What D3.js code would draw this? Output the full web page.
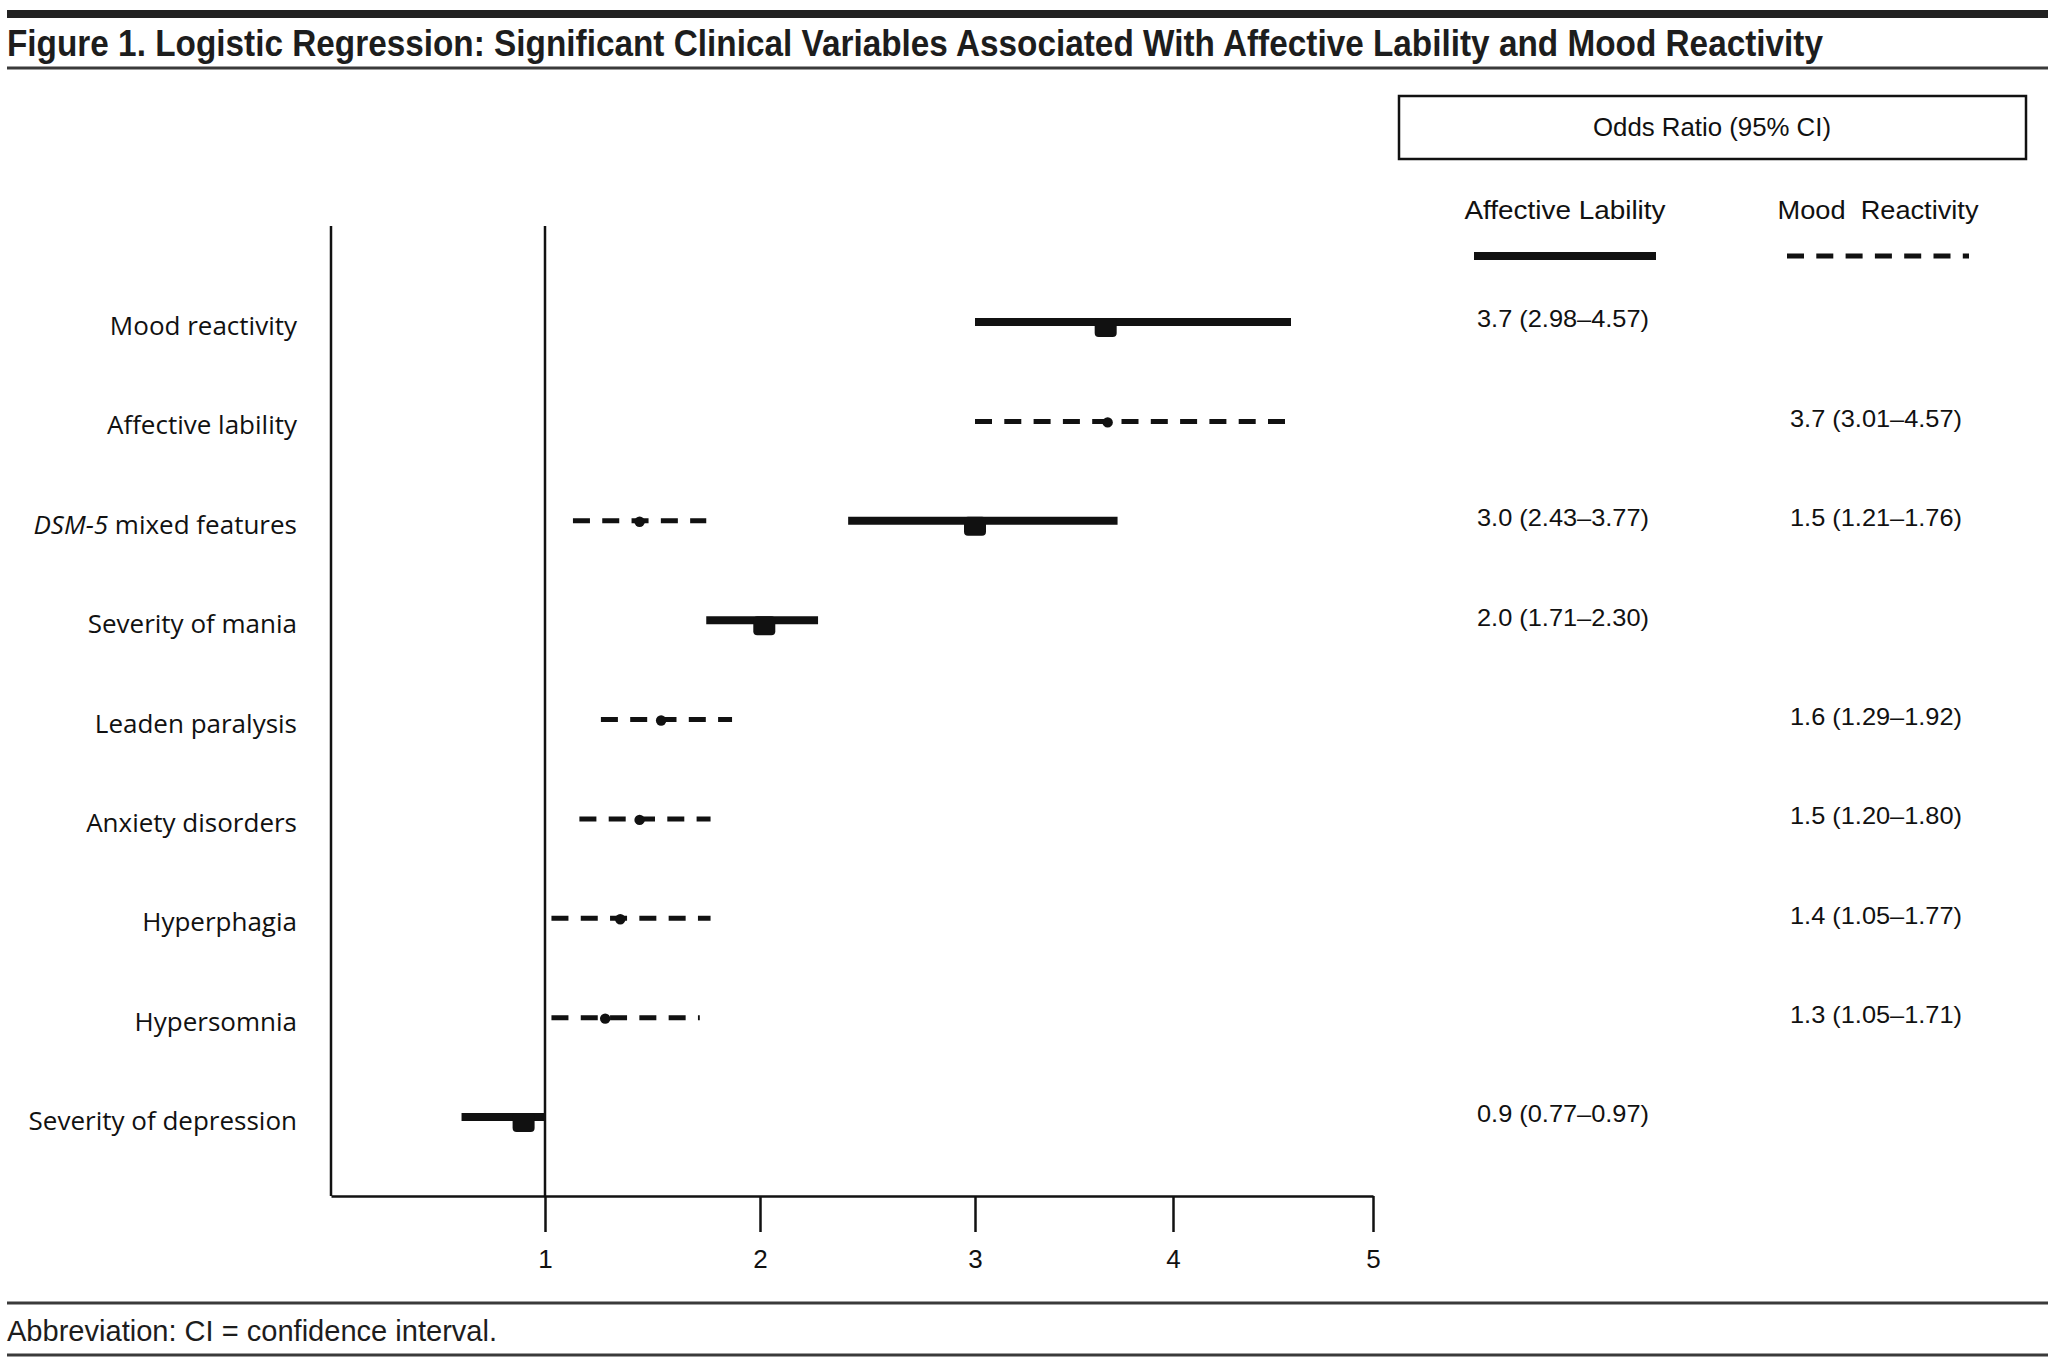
<!DOCTYPE html>
<html>
<head>
<meta charset="utf-8">
<script src="https://cdn.jsdelivr.net/npm/d3@7"></script>
<style>
  body { margin: 0; background: #fff; }
  svg { display: block; }
</style>
</head>
<body>
<div id="chart"></div>
<script>
// rows, top to bottom
const rows = ['Mood reactivity', 'Affective lability', 'DSM-5 mixed features', 'Severity of mania',
  'Leaden paralysis', 'Anxiety disorders', 'Hyperphagia', 'Hypersomnia', 'Severity of depression'];

// Affective lability model (solid)
const affRows = ['Mood reactivity', 'DSM-5 mixed features', 'Severity of mania', 'Severity of depression'];
const affLow = [3.00, 2.41, 1.75, 0.61];
const affOR = [3.66, 3.00, 2.02, 0.90];
const affHigh = [4.59, 3.72, 2.27, 1.00];
const affText = ['3.7 (2.98–4.57)', '3.0 (2.43–3.77)', '2.0 (1.71–2.30)', '0.9 (0.77–0.97)'];

// Mood reactivity model (dashed)
const moodRows = ['Affective lability', 'DSM-5 mixed features', 'Leaden paralysis', 'Anxiety disorders', 'Hyperphagia', 'Hypersomnia'];
const moodLow = [3.00, 1.13, 1.26, 1.16, 1.03, 1.03];
const moodOR = [3.67, 1.44, 1.54, 1.44, 1.35, 1.28];
const moodHigh = [4.56, 1.75, 1.87, 1.77, 1.77, 1.72];
const moodText = ['3.7 (3.01–4.57)', '1.5 (1.21–1.76)', '1.6 (1.29–1.92)', '1.5 (1.20–1.80)', '1.4 (1.05–1.77)', '1.3 (1.05–1.71)'];

const xTicks = [1, 2, 3, 4, 5];

const W = 2058, H = 1366;
const ink = '#111';
const rule = '#3a3a3a';
const condensed = '"Liberation Sans Narrow", "Liberation Sans", Arial, sans-serif';
const wide = '"Open Sans", "Noto Sans", sans-serif';

const svg = d3.select('#chart').append('svg')
  .attr('width', W).attr('height', H)
  .attr('viewBox', `0 0 ${W} ${H}`);

// 標題與橫線
svg.append('rect').attr('x', 7).attr('y', 10).attr('width', 2041).attr('height', 8).attr('fill', '#222');
svg.append('text')
  .attr('x', 7).attr('y', 56)
  .attr('textLength', 1816).attr('lengthAdjust', 'spacingAndGlyphs')
  .style('font-family', condensed).style('font-weight', 'bold').style('font-size', '37px')
  .attr('fill', '#1d1d1d')
  .text('Figure 1. Logistic Regression: Significant Clinical Variables Associated With Affective Lability and Mood Reactivity');
svg.append('line').attr('x1', 7).attr('x2', 2048).attr('y1', 68).attr('y2', 68)
  .attr('stroke', rule).attr('stroke-width', 3);

// footer
svg.append('line').attr('x1', 7).attr('x2', 2048).attr('y1', 1303).attr('y2', 1303)
  .attr('stroke', rule).attr('stroke-width', 3);
svg.append('text')
  .attr('x', 7).attr('y', 1341)
  .attr('textLength', 490).attr('lengthAdjust', 'spacingAndGlyphs')
  .style('font-family', condensed).style('font-size', '29px').attr('fill', '#1d1d1d')
  .text('Abbreviation: CI = confidence interval.');
svg.append('line').attr('x1', 7).attr('x2', 2048).attr('y1', 1355).attr('y2', 1355)
  .attr('stroke', rule).attr('stroke-width', 3);

// scales: the printed axis is not evenly spaced, so piecewise
const x = d3.scaleLinear()
  .domain([0, 1, 2, 3, 4, 5])
  .range([331, 545, 760, 975, 1173, 1373]);

const y = d3.scalePoint()
  .domain(rows)
  .range([322, 1117]);

const plotTop = y(rows[0]) - 96;
const plotBottom = 1196;

// 左框線與 OR=1 參考線
svg.append('line')
  .attr('x1', x(0)).attr('x2', x(0)).attr('y1', plotTop).attr('y2', plotBottom)
  .attr('stroke', ink).attr('stroke-width', 2.5);
svg.append('line')
  .attr('x1', x(1)).attr('x2', x(1)).attr('y1', plotTop).attr('y2', plotBottom)
  .attr('stroke', ink).attr('stroke-width', 2.5);

// x axis
const xAxis = svg.append('g')
  .attr('transform', `translate(0,${plotBottom})`)
  .call(d3.axisBottom(x).tickValues(xTicks).tickSize(36).tickSizeOuter(0).tickPadding(18).tickFormat(d3.format('d')));
xAxis.select('.domain').attr('stroke', ink).attr('stroke-width', 2.5);
xAxis.selectAll('.tick line').attr('stroke', ink).attr('stroke-width', 2.5);
xAxis.selectAll('.tick text')
  .style('font-family', condensed).style('font-size', '26px').attr('fill', ink);

// row labels
const labels = svg.append('g');
rows.forEach(r => {
  const t = labels.append('text')
    .attr('x', 297).attr('y', y(r) + 4).attr('dy', '0.35em')
    .attr('text-anchor', 'end')
    .style('font-family', wide).style('font-size', '26px').attr('fill', ink);
  if (r.startsWith('DSM-5')) {
    t.append('tspan').style('font-style', 'italic').text('DSM-5');
    t.append('tspan').text(r.slice(5));
  } else {
    t.text(r);
  }
});

// 情感不穩定 (solid)
const aff = affRows.map((r, i) => ({ row: r, lo: affLow[i], or: affOR[i], hi: affHigh[i], txt: affText[i] }));
svg.append('g').selectAll('line')
  .data(aff).enter().append('line')
  .attr('x1', d => x(d.lo)).attr('x2', d => x(d.hi))
  .attr('y1', d => y(d.row)).attr('y2', d => y(d.row))
  .attr('stroke', ink).attr('stroke-width', 8);
svg.append('g').selectAll('rect')
  .data(aff).enter().append('rect')
  .attr('x', d => x(d.or) - 11).attr('y', d => y(d.row) - 4)
  .attr('width', 22).attr('height', 19).attr('rx', 4)
  .attr('fill', ink);

// 情緒反應性 (dashed)
const mood = moodRows.map((r, i) => ({ row: r, lo: moodLow[i], or: moodOR[i], hi: moodHigh[i], txt: moodText[i] }));
svg.append('g').selectAll('line')
  .data(mood).enter().append('line')
  .attr('x1', d => x(d.lo)).attr('x2', d => x(d.hi))
  .attr('y1', d => y(d.row)).attr('y2', d => y(d.row))
  .attr('stroke', ink).attr('stroke-width', 5)
  .attr('stroke-dasharray', '17,12.3');
svg.append('g').selectAll('circle')
  .data(mood).enter().append('circle')
  .attr('cx', d => x(d.or)).attr('cy', d => y(d.row) + 1)
  .attr('r', 5.2)
  .attr('fill', ink);

// 右側 OR 文字
const annStyle = sel => sel
  .attr('dy', '0.35em')
  .attr('textLength', 172).attr('lengthAdjust', 'spacingAndGlyphs')
  .style('font-family', condensed).style('font-size', '24px').attr('fill', ink);
svg.append('g').selectAll('text')
  .data(aff).enter().append('text')
  .attr('x', 1477).attr('y', d => y(d.row) - 3)
  .text(d => d.txt)
  .call(annStyle);
svg.append('g').selectAll('text')
  .data(mood).enter().append('text')
  .attr('x', 1790).attr('y', d => y(d.row) - 3)
  .text(d => d.txt)
  .call(annStyle);

// legend header box
svg.append('rect')
  .attr('x', 1399).attr('y', 96).attr('width', 627).attr('height', 63)
  .attr('fill', 'none').attr('stroke', ink).attr('stroke-width', 2.5);
svg.append('text')
  .attr('x', 1712).attr('y', 127).attr('dy', '0.35em').attr('text-anchor', 'middle')
  .attr('textLength', 238).attr('lengthAdjust', 'spacingAndGlyphs')
  .style('font-family', condensed).style('font-size', '25px').attr('fill', ink)
  .text('Odds Ratio (95% CI)');

const legend = [
  { name: 'Affective Lability', cx: 1565, dash: null, w: 8 },
  { name: 'Mood  Reactivity', cx: 1878, dash: '17,12.3', w: 5 }
];
legend.forEach(l => {
  svg.append('text')
    .attr('x', l.cx).attr('y', 210).attr('dy', '0.35em').attr('text-anchor', 'middle')
    .attr('textLength', 201).attr('lengthAdjust', 'spacingAndGlyphs')
    .style('font-family', condensed).style('font-size', '26px').style('white-space', 'pre')
    .attr('fill', ink)
    .text(l.name);
  svg.append('line')
    .attr('x1', l.cx - 91).attr('x2', l.cx + 91).attr('y1', 256).attr('y2', 256)
    .attr('stroke', ink).attr('stroke-width', l.w)
    .attr('stroke-dasharray', l.dash);
});
</script>
</body>
</html>
